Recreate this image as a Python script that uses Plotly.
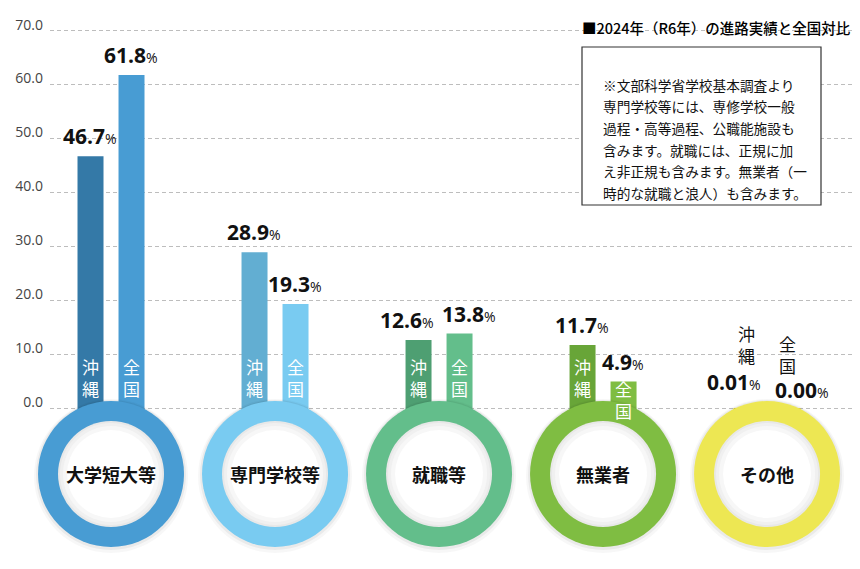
import plotly.graph_objects as go

# 進路先カテゴリと比率（%）
categories = ["大学短大等", "専門学校等", "就職等", "無業者", "その他"]
okinawa = [46.7, 28.9, 12.6, 11.7, 0.01]
zenkoku = [61.8, 19.3, 13.8, 4.9, 0.00]
okinawa_text = ["46.7", "28.9", "12.6", "11.7", "0.01"]
zenkoku_text = ["61.8", "19.3", "13.8", "4.9", "0.00"]
y_ticks = [0, 10, 20, 30, 40, 50, 60, 70]

title_text = "■2024年（R6年）の進路実績と全国対比"
note_lines = [
    "※文部科学省学校基本調査より",
    "専門学校等には、専修学校一般",
    "過程・高等過程、公職能施設も",
    "含みます。就職には、正規に加",
    "え非正規も含みます。無業者（一",
    "時的な就職と浪人）も含みます。",
]

okinawa_colors = ["#3479a7", "#62aed2", "#4e9f72", "#68a538", "#d4cb3a"]
zenkoku_colors = ["#489cd3", "#79cbf1", "#63be8b", "#7fbd42", "#e6dd48"]
ring_colors = ["#489cd3", "#79cbf1", "#63be8b", "#7fbd42", "#ede753"]

JP = "Noto Sans CJK JP"
NUM = "Open Sans"
FLOOR = -2          # bars run down into the ring
CIRCLE_Y = -12.24   # ring centre in data units
XR = [-0.372, 4.524]
YR = [-29.87, 74.21]
W, H = 852, 561     # page body adds an 8px margin


def px_y(y):
    # paper fraction for a data y value
    return (y - YR[0]) / (YR[1] - YR[0])


def px_x(i):
    return (i - XR[0]) / (XR[1] - XR[0])


fig = go.Figure()
for name, vals, cols in [("沖縄", okinawa, okinawa_colors), ("全国", zenkoku, zenkoku_colors)]:
    fig.add_trace(go.Bar(
        x=categories, y=[v - FLOOR for v in vals], base=FLOOR, name=name,
        marker=dict(color=cols, line=dict(width=0)), hoverinfo="skip",
    ))


def disc(i, r, color, dy=0):
    fig.add_shape(type="circle", xref="paper", yref="paper", xsizemode="pixel", ysizemode="pixel",
                  xanchor=px_x(i), yanchor=px_y(CIRCLE_Y), x0=-r, x1=r, y0=-r + dy, y1=r + dy,
                  fillcolor=color, line_width=0, layer="above")


# rings with labels
for i, cat in enumerate(categories):
    disc(i, 77, "rgba(0,0,0,0.03)", -2)
    disc(i, 75, "rgba(0,0,0,0.05)", -1)
    disc(i, 73, ring_colors[i])
    for r, c in [(53, "#e8e8e8"), (51, "#f0f0f0"), (48, "#f7f7f7"), (44, "#ffffff")]:
        disc(i, r, c)
    fig.add_annotation(x=cat, y=CIRCLE_Y, text=f"<b>{cat}</b>", showarrow=False,
                       font=dict(family=JP, size=18, color="#111"))

# value labels and series labels
for i, cat in enumerate(categories):
    pair = [(okinawa[i], okinawa_text[i], "沖<br>縄", -21), (zenkoku[i], zenkoku_text[i], "全<br>国", 20)]
    close = abs(okinawa[i] - zenkoku[i]) < 3
    for k, (v, t, lab, dx) in enumerate(pair):
        label = f"<b>{t}</b><span style='font-size:14px'>%</span>"
        if v < 1:
            # tiny bars: labels stacked above
            sx = dx - 12 if k == 0 else dx + 15
            fig.add_annotation(x=cat, y=v, xshift=sx, yshift=10 if k == 0 else 2, text=label,
                               showarrow=False, yanchor="bottom",
                               font=dict(family=NUM, size=21, color="#111"))
            fig.add_annotation(x=cat, y=v, xshift=dx, yshift=38 if k == 0 else 28, text=lab,
                               showarrow=False, yanchor="bottom",
                               font=dict(family=JP, size=17, color="#111"))
            continue
        sx = dx + (-11 if k == 0 else 10) if close and v > 8 else dx
        fig.add_annotation(x=cat, y=v, xshift=sx, yshift=4, text=label, showarrow=False,
                           yanchor="bottom", font=dict(family=NUM, size=21, color="#111"))
        fig.add_annotation(x=cat, y=min(5.6, v - 3.4), xshift=dx, text=lab, showarrow=False,
                           font=dict(family=JP, size=17, color="white"))

# title and note box (page px -> figure px: minus 8)
fig.add_annotation(xref="paper", yref="paper", x=1, y=1 - 7 / H, xanchor="right",
                   text=title_text, showarrow=False,
                   font=dict(family=JP, size=14.5, color="#000", weight=500))
fig.add_shape(type="rect", xref="paper", yref="paper",
              x0=(582 - 50) / 803, x1=(821 - 50) / 803, y0=1 - 197 / H, y1=1 - 39 / H,
              fillcolor="white", line=dict(color="#333", width=1.2), layer="above")
for j, line in enumerate(note_lines):
    fig.add_annotation(xref="paper", yref="paper", x=(601 - 50) / 803, y=1 - (65 + 21.5 * j) / H,
                       xanchor="left", text=line, showarrow=False,
                       font=dict(family=JP, size=13.7, color="#111"))

fig.update_layout(
    width=W, height=H, margin=dict(l=42, r=7, t=0, b=0),
    paper_bgcolor="white", plot_bgcolor="white", showlegend=False,
    barmode="group", bargap=0.5, bargroupgap=0.366,
    xaxis=dict(range=XR, showticklabels=False, showgrid=False,
               zeroline=False, showline=False, fixedrange=True),
    yaxis=dict(range=YR, tickvals=y_ticks, ticktext=[f"{v:.1f}" for v in y_ticks],
               showgrid=True, gridcolor="#bdbdbd", griddash="4px,3px", gridwidth=1,
               zeroline=False, showline=False, ticklabelshift=-6, ticklabelstandoff=6,
               tickfont=dict(family=NUM, size=14, color="#444"), fixedrange=True),
)

fig.write_html("out.html")
